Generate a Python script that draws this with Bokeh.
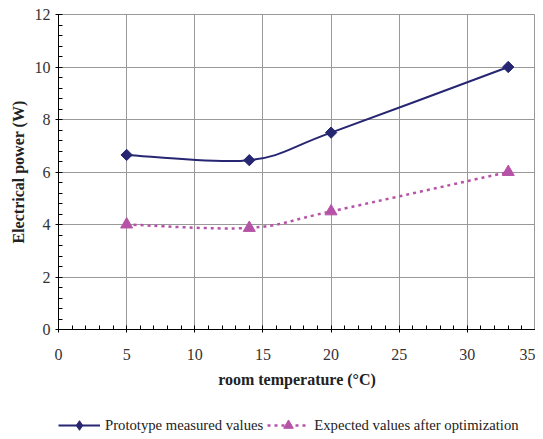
import numpy as np
from bokeh.plotting import figure
from bokeh.layouts import column
from bokeh.models import Range1d, Legend, LegendItem, SingleIntervalTicker
from bokeh.embed import file_html
from bokeh.resources import INLINE

# ---- data ----
temperature = [5, 14, 20, 33]
measured_power = [6.65, 6.45, 7.5, 10.0]
expected_power = [4.0, 3.87, 4.5, 6.0]
series_labels = ["Prototype measured values", "Expected values after optimization"]
x_label = "room temperature (°C)"
y_label = "Electrical power (W)"

NAVY = "#262672"
PINK = "#B653A7"
FONT = "Liberation Serif"
DASH = "3 4"
W = 535


def bezier_segments(xs, ys):
    """Excel-style smoothed line: cubic bezier control points through the data points."""
    xs = np.asarray(xs, float)
    ys = np.asarray(ys, float)
    n = len(xs)
    seg = dict(x0=[], y0=[], x1=[], y1=[], cx0=[], cy0=[], cx1=[], cy1=[])
    for i in range(n - 1):
        ip = max(i - 1, 0)
        inx = min(i + 2, n - 1)
        seg["x0"].append(xs[i]); seg["y0"].append(ys[i])
        seg["x1"].append(xs[i + 1]); seg["y1"].append(ys[i + 1])
        seg["cx0"].append(xs[i] + (xs[i + 1] - xs[ip]) / 6)
        seg["cy0"].append(ys[i] + (ys[i + 1] - ys[ip]) / 6)
        seg["cx1"].append(xs[i + 1] - (xs[inx] - xs[i]) / 6)
        seg["cy1"].append(ys[i + 1] - (ys[inx] - ys[i]) / 6)
    return seg


p = figure(width=W, height=395,
           x_range=Range1d(0, 35), y_range=Range1d(0, 12),
           output_backend="svg", toolbar_location=None,
           min_border_left=58, min_border_right=0,
           min_border_top=14, min_border_bottom=66)

p.background_fill_color = "white"
p.border_fill_color = "white"
p.outline_line_color = "#999999"
p.outline_line_width = 1

p.xaxis.ticker = SingleIntervalTicker(interval=5, num_minor_ticks=5)
p.yaxis.ticker = SingleIntervalTicker(interval=2, num_minor_ticks=5)

p.xgrid.grid_line_color = "#999999"
p.ygrid.grid_line_color = "#999999"
p.xgrid.grid_line_width = 1
p.ygrid.grid_line_width = 1

for ax in (p.xaxis, p.yaxis):
    ax.axis_line_color = "black"
    ax.axis_line_width = 1
    ax.major_tick_line_color = "black"
    ax.minor_tick_line_color = "black"
    ax.major_tick_in = 3
    ax.major_tick_out = 3
    ax.minor_tick_in = 4
    ax.minor_tick_out = 0
    ax.major_label_text_font = FONT
    ax.major_label_text_font_size = "16px"
    ax.major_label_text_color = "#333333"
    ax.axis_label_text_font = FONT
    ax.axis_label_text_font_size = "16px"
    ax.axis_label_text_font_style = "bold"
    ax.axis_label_text_color = "#222222"

p.xaxis.axis_label = x_label
p.yaxis.axis_label = y_label
p.xaxis.major_label_standoff = 16
p.xaxis.axis_label_standoff = 8
p.yaxis.major_label_standoff = 5
p.yaxis.axis_label_standoff = 5

s1 = bezier_segments(temperature, measured_power)
s2 = bezier_segments(temperature, expected_power)

p.bezier(**s1, line_color=NAVY, line_width=2)
p.bezier(**s2, line_color=PINK, line_width=2.5, line_dash=DASH)

p.scatter(temperature, measured_power, marker="square", angle=np.pi / 4,
          size=8, fill_color=NAVY, line_color=NAVY)
p.scatter(temperature, expected_power, marker="triangle",
          size=12, fill_color=PINK, line_color=PINK)

# ---- legend strip (its series sit outside this strip's ranges; only the key shows) ----
k = figure(width=W, height=42, x_range=Range1d(-20, -19), y_range=Range1d(-20, -19),
           output_backend="svg", toolbar_location=None, min_border=0,
           x_axis_location=None, y_axis_location=None)
k.grid.visible = False
k.outline_line_color = None
k.background_fill_color = "white"
k.border_fill_color = "white"

l1 = k.line(temperature, measured_power, line_color=NAVY, line_width=2)
d1 = k.scatter(temperature, measured_power, marker="diamond", fill_color=NAVY, line_color=NAVY)
l2 = k.line(temperature, expected_power, line_color=PINK, line_width=2.5, line_dash=DASH)
d2 = k.scatter(temperature, expected_power, marker="triangle", fill_color=PINK, line_color=PINK)

legend = Legend(items=[LegendItem(label=series_labels[0], renderers=[l1, d1]),
                       LegendItem(label=series_labels[1], renderers=[l2, d2])],
                orientation="horizontal", location=(0, 0))
legend.glyph_width = 42
legend.glyph_height = 24
legend.label_standoff = 5
legend.spacing = 4
legend.padding = 0
legend.margin = 0
legend.border_line_color = None
legend.background_fill_alpha = 0
legend.label_text_font = FONT
legend.label_text_font_size = "14.7px"
legend.label_text_color = "#222222"
k.add_layout(legend)

layout = column(p, k, spacing=0)
open("out.html", "w").write(file_html(layout, INLINE))
